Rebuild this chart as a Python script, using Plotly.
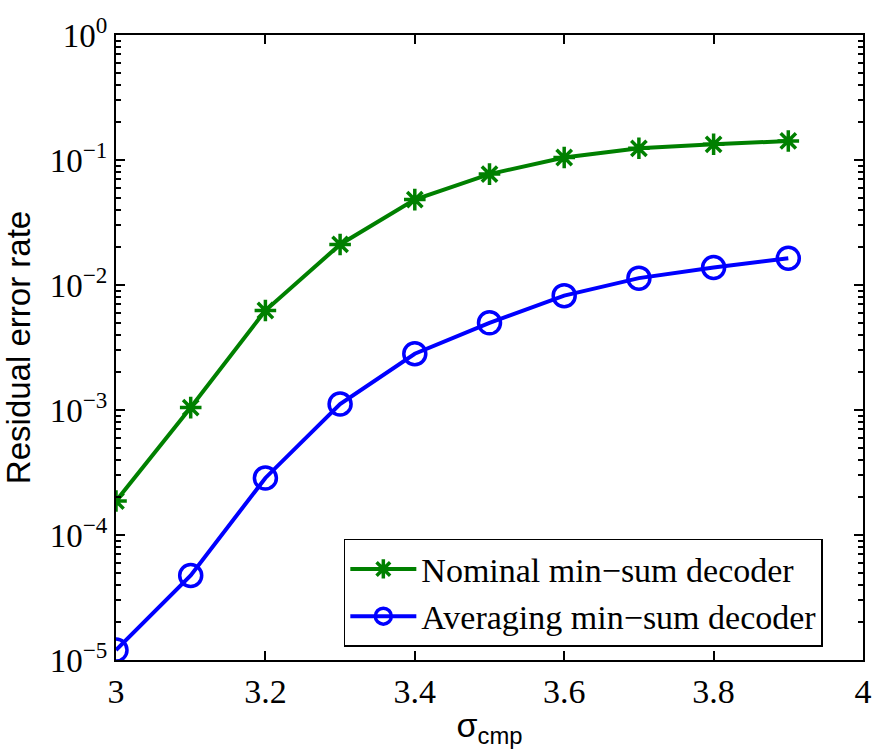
import plotly.graph_objects as go

sigma = [3.0, 3.1, 3.2, 3.3, 3.4, 3.5, 3.6, 3.7, 3.8, 3.9]
nominal = [1.87e-4, 1.045e-3, 6.25e-3, 2.11e-2, 4.82e-2, 7.71e-2, 1.047e-1, 1.24e-1, 1.335e-1, 1.42e-1]
averaging = [1.2e-5, 4.74e-5, 2.86e-4, 1.117e-3, 2.82e-3, 4.98e-3, 8.22e-3, 1.135e-2, 1.38e-2, 1.637e-2]

x_ticks = [3, 3.2, 3.4, 3.6, 3.8, 4]
x_ticktext = ["3", "3.2", "3.4", "3.6", "3.8", "4"]
y_exps = [-5, -4, -3, -2, -1, 0]

serif = "Liberation Serif, Times New Roman, serif"
sans = "Liberation Sans, Arial, sans-serif"

fig = go.Figure()
fig.add_trace(go.Scatter(
    x=sigma, y=nominal, mode="lines+markers", name="Nominal min\u2212sum decoder",
    line=dict(color="#008000", width=4),
    marker=dict(symbol="asterisk-open", size=18, line=dict(color="#008000", width=3.5)),
))
fig.add_trace(go.Scatter(
    x=sigma, y=averaging, mode="lines+markers", name="Averaging min\u2212sum decoder",
    line=dict(color="#0000FF", width=4),
    marker=dict(symbol="circle-open", size=22, line=dict(color="#0000FF", width=3.5)),
))

y_tickvals = [10 ** e for e in y_exps]
y_ticktext = ["10<sup>\u2212%d</sup>" % (-e) if e < 0 else "10<sup>0</sup>" for e in y_exps]
minor_vals = [m * 10 ** e for e in range(-5, 0) for m in range(2, 10)]

fig.update_layout(
    width=884, height=754,
    margin=dict(l=116, r=14, t=31, b=94),
    paper_bgcolor="white", plot_bgcolor="white",
    showlegend=True,
    legend=dict(
        x=0.305, y=0.021, xanchor="left", yanchor="bottom",
        bordercolor="black", borderwidth=1.5, bgcolor="white",
        font=dict(family=serif, size=34, color="black"),
        itemwidth=66, tracegroupgap=0,
    ),
    xaxis=dict(
        range=[3, 4], tickmode="array", tickvals=x_ticks, ticktext=x_ticktext,
        ticks="inside", ticklen=9, tickwidth=1.5, tickcolor="black",
        showline=True, linecolor="black", linewidth=2, mirror="allticks",
        showgrid=False, zeroline=False,
        tickfont=dict(family=serif, size=34, color="black"),
        title=dict(text="\u03c3<sub>cmp</sub>", font=dict(family=sans, size=34, color="black"), standoff=4),
    ),
    yaxis=dict(
        type="log", range=[-5, 0], tickmode="array",
        tickvals=y_tickvals, ticktext=y_ticktext,
        ticks="inside", ticklen=9, tickwidth=1.5, tickcolor="black",
        minor=dict(tickmode="array", tickvals=minor_vals, ticks="inside", ticklen=5,
                   tickwidth=1.5, tickcolor="black", showgrid=False),
        showline=True, linecolor="black", linewidth=2, mirror="allticks",
        showgrid=False, zeroline=False,
        tickfont=dict(family=serif, size=33, color="black"),
        title=dict(text="Residual error rate", font=dict(family=sans, size=33, color="black"), standoff=12),
    ),
)

fig.write_html("out.html")
